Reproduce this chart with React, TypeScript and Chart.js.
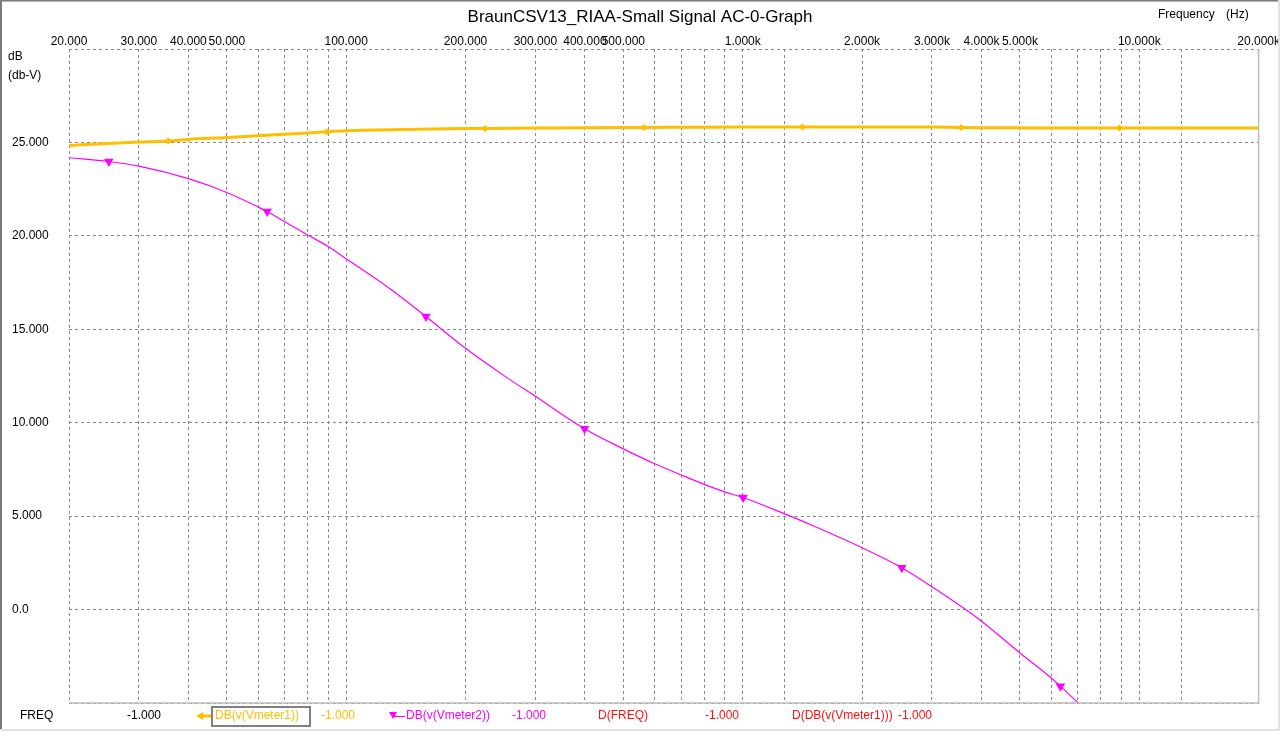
import React, { useEffect, useRef } from 'react';
import { Chart, registerables } from 'chart.js';

Chart.register(...registerables);

const FONT = '"Liberation Sans", Arial, sans-serif';

const chartTitle = 'BraunCSV13_RIAA-Small Signal AC-0-Graph';
const xAxisTitle = ['Frequency', '(Hz)'];
const yAxisTitle = ['dB', '(db-V)'];

// grid lines on the frequency axis (as in the reference)
const xGridValues = [20, 30, 40, 50, 60, 70, 80, 90, 100, 200, 300, 400, 500, 600, 700, 800, 900, 1000, 1276, 2000, 3000, 4000, 5000, 6000, 7000, 8000, 9000, 10000, 12760, 20000];
const xLabelValues = [20, 30, 40, 50, 100, 200, 300, 400, 500, 1000, 2000, 3000, 4000, 5000, 10000, 20000];
const xTickLabels = ['20.000', '30.000', '40.000', '50.000', '100.000', '200.000', '300.000', '400.000', '500.000', '1.000k', '2.000k', '3.000k', '4.000k', '5.000k', '10.000k', '20.000k'];

const yTickValues = [-5, 0, 5, 10, 15, 20, 25, 30];
const yTickLabels = ['', '0.0', '5.000', '10.000', '15.000', '20.000', '25.000', ''];

// DB(v(Vmeter1))
const vm1Freq = [20, 30, 35.6, 40, 50, 60, 70, 80, 89.3, 100, 150, 200, 224, 300, 400, 500, 563, 700, 1000, 1414, 2000, 3000, 3550, 4000, 5000, 7000, 8915, 10000, 15000, 20000];
const vm1Db = [24.84, 25.02, 25.08, 25.16, 25.26, 25.36, 25.44, 25.51, 25.57, 25.62, 25.7, 25.74, 25.75, 25.77, 25.79, 25.8, 25.8, 25.81, 25.83, 25.83, 25.83, 25.82, 25.8, 25.79, 25.78, 25.77, 25.77, 25.77, 25.77, 25.77];
const vm1MarkerFreq = [35.6, 89.3, 224, 563, 1414, 3550, 8915];

// DB(v(Vmeter2))
const vm2Freq = [20, 25.2, 30, 40, 50, 60, 63.2, 70, 80, 90, 100, 130, 158.9, 200, 250, 300, 399, 500, 600, 700, 800, 900, 1002, 1276, 1500, 2000, 2518, 3000, 4000, 5000, 6000, 6325, 7000];
const vm2Db = [24.18, 23.98, 23.73, 23.06, 22.32, 21.54, 21.3, 20.75, 20.05, 19.43, 18.78, 17.12, 15.68, 13.98, 12.52, 11.41, 9.68, 8.6, 7.8, 7.2, 6.7, 6.3, 6.0, 5.12, 4.5, 3.31, 2.24, 1.22, -0.62, -2.32, -3.66, -4.1, -4.98];
const vm2MarkerFreq = [25.2, 63.2, 158.9, 399, 1002, 2518, 6325];

const legendNames = ['FREQ', 'DB(v(Vmeter1))', 'DB(v(Vmeter2))', 'D(FREQ)', 'D(DB(v(Vmeter1)))'];
const legendValues = ['-1.000', '-1.000', '-1.000', '-1.000', '-1.000'];

const ORANGE = '#FFBF00';
const MAGENTA = '#FF00FF';
const RED = '#FF1010';

const decorPlugin = {
  id: 'decor',
  beforeDraw(chart: any) {
    const { ctx, width, height } = chart;
    ctx.save();
    ctx.fillStyle = '#ffffff';
    ctx.fillRect(0, 0, width, height);
    ctx.restore();
  },
  afterDraw(chart: any) {
    const { ctx, chartArea: a, width, height } = chart;
    ctx.save();
    ctx.setLineDash([]);
    // solid right/bottom plot border
    ctx.strokeStyle = '#bdbdbd';
    ctx.lineWidth = 1.5;
    ctx.beginPath();
    ctx.moveTo(a.left, a.bottom);
    ctx.lineTo(a.right, a.bottom);
    ctx.lineTo(a.right, a.top);
    ctx.stroke();
    // outer frame
    ctx.fillStyle = '#7a7a7a';
    ctx.fillRect(0, 0, width, 1.5);
    ctx.fillRect(0, 0, 2, height);
    ctx.fillStyle = '#e2e2e2';
    ctx.fillRect(width - 2, 0, 2, height);
    ctx.fillRect(0, height - 2, width, 2);

    // title
    ctx.fillStyle = '#000';
    ctx.textBaseline = 'middle';
    ctx.textAlign = 'center';
    ctx.font = '17px ' + FONT;
    ctx.fillText(chartTitle, 640, 17);

    ctx.textAlign = 'left';
    ctx.font = '12px ' + FONT;
    ctx.fillText(xAxisTitle[0], 1158, 15);
    ctx.fillText(xAxisTitle[1], 1226, 15);
    ctx.fillText(yAxisTitle[0], 8, 57);
    ctx.fillText(yAxisTitle[1], 8, 76);

    // bottom legend row
    const ly = 716;
    ctx.fillStyle = '#000';
    ctx.fillText(legendNames[0], 20, ly);
    ctx.fillText(legendValues[0], 127, ly);

    // orange arrow symbol
    ctx.strokeStyle = ORANGE;
    ctx.fillStyle = ORANGE;
    ctx.lineWidth = 3;
    ctx.beginPath();
    ctx.moveTo(200, ly);
    ctx.lineTo(212, ly);
    ctx.stroke();
    ctx.beginPath();
    ctx.moveTo(196, ly);
    ctx.lineTo(203, ly - 4);
    ctx.lineTo(203, ly + 4);
    ctx.closePath();
    ctx.fill();
    // selection box
    ctx.strokeStyle = '#808080';
    ctx.lineWidth = 2;
    ctx.strokeRect(212, 707, 98, 19);
    ctx.fillStyle = ORANGE;
    ctx.fillText(legendNames[1], 215, ly);
    ctx.fillText(legendValues[1], 321, ly);

    // magenta triangle symbol
    ctx.fillStyle = MAGENTA;
    ctx.strokeStyle = MAGENTA;
    ctx.beginPath();
    ctx.moveTo(389, ly - 4);
    ctx.lineTo(397, ly - 4);
    ctx.lineTo(393, ly + 3);
    ctx.closePath();
    ctx.fill();
    ctx.lineWidth = 1;
    ctx.beginPath();
    ctx.moveTo(393, ly + 0.5);
    ctx.lineTo(405, ly + 0.5);
    ctx.stroke();
    ctx.fillText(legendNames[2], 406, ly);
    ctx.fillText(legendValues[2], 512, ly);

    ctx.fillStyle = RED;
    ctx.fillText(legendNames[3], 598, ly);
    ctx.fillText(legendValues[3], 705, ly);
    ctx.fillText(legendNames[4], 792, ly);
    ctx.fillText(legendValues[4], 898, ly);
    ctx.restore();
  },
};

export default function App() {
  const canvasRef = useRef<HTMLCanvasElement | null>(null);

  useEffect(() => {
    document.body.style.margin = '0';
    const canvas = canvasRef.current;
    if (!canvas) return;

    const gridColor = '#8a8a8a';

    const chart = new Chart(canvas, {
      type: 'line',
      data: {
        datasets: [
          {
            label: legendNames[2],
            data: vm2Freq.map((f, i) => ({ x: f, y: vm2Db[i] })),
            borderColor: MAGENTA,
            backgroundColor: MAGENTA,
            borderWidth: 1.2,
            cubicInterpolationMode: 'monotone',
            pointStyle: 'triangle',
            rotation: 180,
            pointRadius: (c: any) => (vm2MarkerFreq.includes(vm2Freq[c.dataIndex]) ? 5.5 : 0),
            pointBorderWidth: 0,
            fill: false,
          },
          {
            label: legendNames[1],
            data: vm1Freq.map((f, i) => ({ x: f, y: vm1Db[i] })),
            borderColor: ORANGE,
            backgroundColor: ORANGE,
            borderWidth: 3,
            cubicInterpolationMode: 'monotone',
            pointStyle: 'rectRot',
            pointRadius: (c: any) => (vm1MarkerFreq.includes(vm1Freq[c.dataIndex]) ? 3.5 : 0),
            pointBorderWidth: 0,
            fill: false,
          },
        ],
      } as any,
      options: {
        responsive: false,
        animation: false,
        devicePixelRatio: 1,
        events: [],
        layout: { autoPadding: false, padding: { left: 12, top: 0, right: 18, bottom: 28 } },
        plugins: {
          legend: { display: false },
          title: { display: false },
          tooltip: { enabled: false },
        },
        scales: {
          x: {
            type: 'logarithmic',
            position: 'top',
            min: 20,
            max: 20000,
            afterBuildTicks: (scale: any) => {
              scale.ticks = xGridValues.map((v) => ({ value: v }));
            },
            afterFit: (scale: any) => {
              scale.height = 49;
            },
            grid: {
              color: gridColor,
              lineWidth: 1,
              drawTicks: false,
              borderDash: [3, 3],
            },
            border: { display: false, dash: [3, 3] },
            ticks: {
              autoSkip: false,
              maxRotation: 0,
              minRotation: 0,
              padding: 0,
              color: '#000',
              font: { family: FONT, size: 12 },
              callback: (value: any) => {
                const i = xLabelValues.indexOf(Number(value));
                return i >= 0 ? xTickLabels[i] : '';
              },
            },
          },
          y: {
            type: 'linear',
            position: 'left',
            min: -5,
            max: 30,
            afterBuildTicks: (scale: any) => {
              scale.ticks = yTickValues.map((v) => ({ value: v }));
            },
            afterFit: (scale: any) => {
              scale.width = 57;
            },
            grid: {
              color: gridColor,
              lineWidth: 1,
              drawTicks: false,
              borderDash: [3, 3],
            },
            border: { display: false, dash: [3, 3] },
            ticks: {
              crossAlign: 'far',
              padding: 0,
              color: '#000',
              font: { family: FONT, size: 12 },
              callback: (value: any) => {
                const i = yTickValues.indexOf(Number(value));
                return i >= 0 ? yTickLabels[i] : '';
              },
            },
          },
        },
      } as any,
      plugins: [decorPlugin],
    });

    return () => chart.destroy();
  }, []);

  return (
    <div style={{ width: 1280, height: 731, position: 'relative', background: '#fff' }}>
      <canvas ref={canvasRef} width={1280} height={731} style={{ display: 'block' }} />
    </div>
  );
}
